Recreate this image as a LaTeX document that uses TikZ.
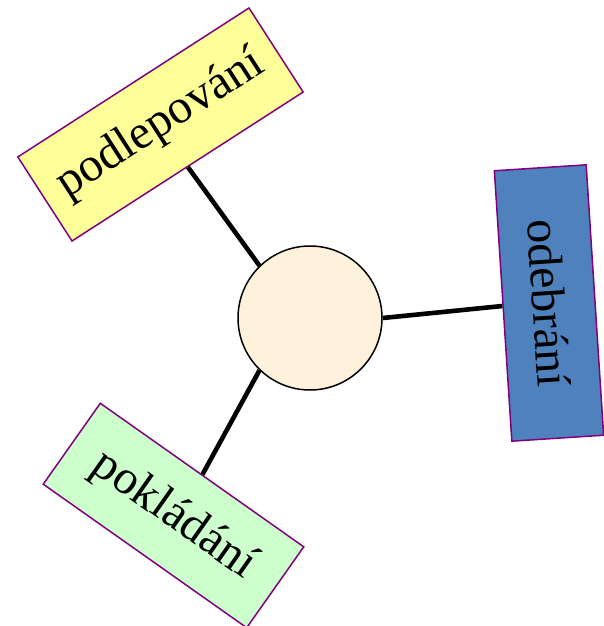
\documentclass[tikz,border=0pt]{standalone}
\usepackage{fontspec}
\setmainfont{Liberation Serif}
\definecolor{krem}{RGB}{254,242,220}
\definecolor{zluta}{RGB}{255,255,153}
\definecolor{modra}{RGB}{79,129,189}
\definecolor{zelena}{RGB}{204,255,204}
\definecolor{fialova}{RGB}{128,0,128}
\begin{document}
\begin{tikzpicture}[x=1pt, y=1pt,
	stitek/.style={draw=fialova, line width=1.5pt, inner sep=0pt, font=\fontsize{48}{52}\selectfont},
	spoj/.style={line width=4.6pt}]
	\useasboundingbox (0,0) rectangle (604,-626);
	\node[circle, draw, line width=1.5pt, fill=krem, minimum size=144pt] (stred) at (310,-318) {};
	
	\node[stitek, fill=zluta, minimum width=275pt, minimum height=100pt, rotate=32.8] (podlep) at (160.5,-124.5) {podlepování};
	\node[stitek, fill=modra, minimum width=271pt, minimum height=92pt, rotate=-86.3] (odebr) at (549,-303) {odebrání};
	\node[stitek, fill=zelena, minimum width=249pt, minimum height=99pt, rotate=-35.2] (poklad) at (173.5,-515.5) {pokládání};
	
	\draw[spoj] (stred.134) -- (podlep.south);
	\draw[spoj] (stred.0) -- (odebr.south);
	\draw[spoj] (stred.226) -- (poklad.north);
\end{tikzpicture}
\end{document}
